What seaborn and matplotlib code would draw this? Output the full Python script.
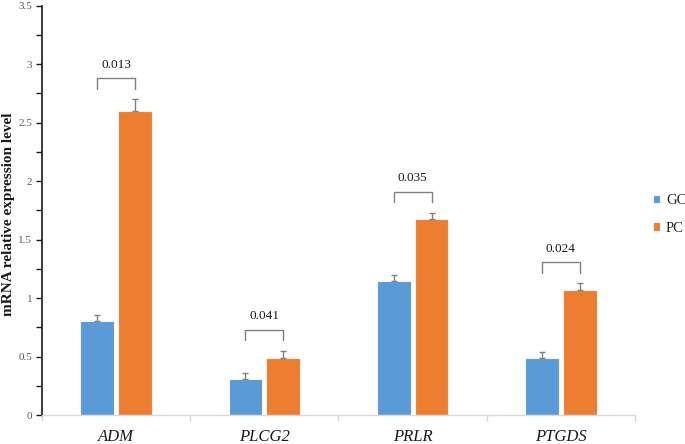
import matplotlib
matplotlib.use("Agg")
import matplotlib.pyplot as plt
import seaborn as sns
import pandas as pd
import numpy as np

genes = ["ADM", "PLCG2", "PRLR", "PTGDS"]
groups = ["GC", "PC"]
gc_values = [0.80, 0.31, 1.145, 0.49]
pc_values = [2.60, 0.49, 1.675, 1.065]
gc_errors = [0.055, 0.05, 0.055, 0.05]
pc_errors = [0.10, 0.06, 0.055, 0.06]
p_values = ["0.013", "0.041", "0.035", "0.024"]
yticks = [0, 0.5, 1, 1.5, 2, 2.5, 3, 3.5]

sns.set_style("white")
plt.rcParams["font.family"] = ["Liberation Serif", "DejaVu Serif"]

df = pd.DataFrame({
    "gene": genes * 2,
    "group": ["GC"] * len(genes) + ["PC"] * len(genes),
    "value": gc_values + pc_values,
})

fig = plt.figure(figsize=(6.85, 4.44), dpi=100)
ax = fig.add_axes([0.0613, 0.0653, 0.8657, 0.922])

palette = {"GC": "#5B9BD5", "PC": "#ED7D31"}
sns.barplot(data=df, x="gene", y="value", hue="group", order=genes,
            hue_order=groups, palette=palette, width=0.51, gap=0.11,
            errorbar=None, edgecolor="#f4f4f4", linewidth=0.8, ax=ax,
            saturation=1)

gc_bars = list(ax.containers[0])
pc_bars = list(ax.containers[1])

def centers(blist):
    return [p.get_x() + p.get_width() / 2 for p in blist]

for blist, vals, errs_ in [(gc_bars, gc_values, gc_errors), (pc_bars, pc_values, pc_errors)]:
    ax.errorbar(centers(blist), vals, yerr=[np.zeros(len(vals)), errs_], fmt="none",
                ecolor="#808080", elinewidth=1.0, capsize=2.2, capthick=1.0, zorder=3)

# significance brackets
gcx = centers(gc_bars)
pcx = centers(pc_bars)
for k in range(len(genes)):
    x1, x2 = gcx[k], pcx[k]
    top = pc_values[k] + pc_errors[k] + 0.18
    ax.plot([x1, x1, x2, x2], [top - 0.09, top, top, top - 0.09],
            color="#808080", lw=1.0, zorder=3)
    ax.text((x1 + x2) / 2, top + 0.115, p_values[k], ha="center", va="center",
            fontsize=9.5, color="#1a1a1a")

ax.set_ylim(0, 3.5)
ax.set_xlim(-0.5, len(genes) - 0.5)
ax.set_yticks(yticks)
ax.set_yticklabels([f"{t:g}" for t in yticks], fontsize=8, color="#595959")
ax.set_yticks(np.arange(0.25, 3.5, 0.5), minor=True)
ax.tick_params(axis="y", which="both", direction="out", length=4, width=1,
               color="#1a1a1a", left=True, pad=3)

ax.set_xticks(range(len(genes)))
ax.set_xticklabels(genes, fontsize=12, style="italic", color="#1a1a1a")
ax.tick_params(axis="x", which="major", length=0, pad=10)
ax.set_xticks(np.arange(-0.5, len(genes), 1.0), minor=True)
ax.tick_params(axis="x", which="minor", direction="out", length=4,
               color="#d9d9d9", width=1, bottom=True)

ax.set_xlabel("")
ax.set_ylabel("mRNA relative expression level", fontsize=11, fontweight="bold",
              color="#1a1a1a")
ax.yaxis.set_label_coords(-0.046, 0.49)

for s in ["top", "right"]:
    ax.spines[s].set_visible(False)
ax.spines["left"].set_color("#1a1a1a")
ax.spines["left"].set_linewidth(1.2)
ax.spines["bottom"].set_color("#d9d9d9")
ax.spines["bottom"].set_linewidth(1.0)

leg = ax.legend(title=None, frameon=False, loc="center left",
                bbox_to_anchor=(1.03, 0.49), fontsize=10.5,
                handlelength=0.5, handleheight=0.5, handletextpad=0.4,
                labelspacing=1.0, borderpad=0, borderaxespad=0)

fig.savefig("out.png", dpi=100)
